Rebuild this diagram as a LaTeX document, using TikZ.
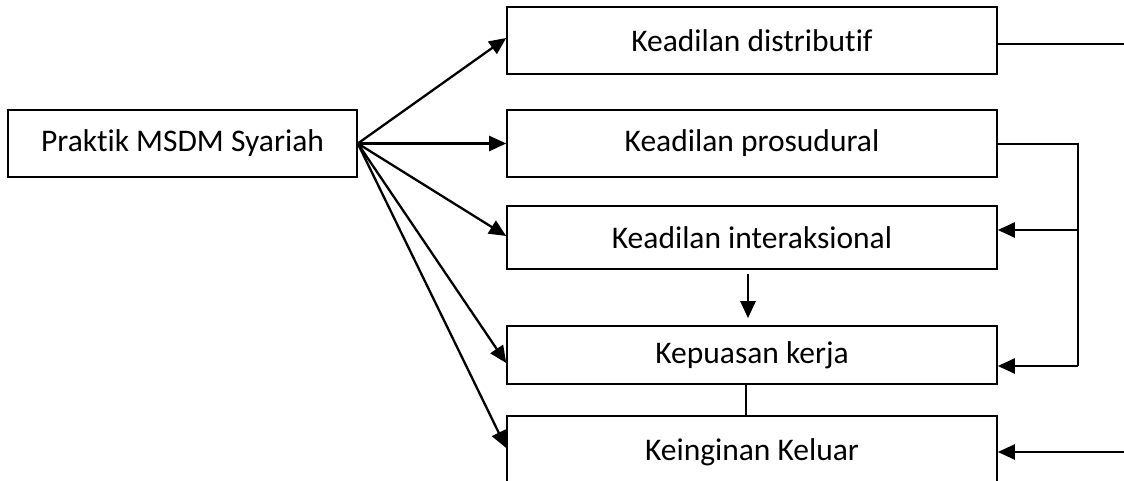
\documentclass[tikz,border=0pt]{standalone}
\usepackage{fontspec}
\setmainfont{Carlito}[Ligatures={NoCommon}]
\usetikzlibrary{arrows.meta}
\begin{document}
\begin{tikzpicture}[x=1pt,y=-1pt,
  box/.style={draw,line width=1.6pt,minimum width=490pt,inner sep=0pt,
    font=\fontsize{31.5}{36}\selectfont},
  arr/.style={line width=2.3pt,-{Triangle[length=17pt,width=15pt]}},
  ln/.style={line width=2.3pt}]
\clip (0,0) rectangle (1124,481);
\fill[white] (0,0) rectangle (1124,481);
\node[box,minimum width=349pt,minimum height=67pt] (A) at (182.5,143.5) {Praktik MSDM Syariah};
\node[box,minimum height=67pt] (B1) at (752,40.5) {Keadilan distributif};
\node[box,minimum height=67pt] (B2) at (752,143.5) {Keadilan prosudural};
\node[box,minimum height=63pt] (B3) at (752,237.5) {Keadilan interaksional};
\node[box,minimum height=58pt] (B4) at (752,355) {Kepuasan kerja};
\node[box,minimum height=72pt] (B5) at (752,452) {Keinginan Keluar};
% fan
\draw[arr] (A.east) -- ([yshift=2.5pt]B1.west);
\draw[arr] (A.east) -- (B2.west);
\draw[arr] (A.east) -- ([yshift=1.5pt]B3.west);
\draw[arr] (A.east) -- ([yshift=-8pt]B4.west);
\draw[arr] (A.east) -- ([yshift=4pt]B5.west);
% between boxes
\draw[arr] ([xshift=-4pt,yshift=-4pt]B3.south) -- ([xshift=-4pt,yshift=7pt]B4.north);
\draw[line width=1.3pt] ([xshift=-6pt]B4.south) -- ([xshift=-6pt]B5.north);
% right side
\coordinate (r1) at (1124,44);
\draw[ln] (B1.east |- r1) -- (r1);
\coordinate (j1) at (1078,144);
\coordinate (j2) at (1078,230);
\coordinate (j3) at (1078,366);
\draw[ln] (B2.east |- j1) -- (j1) -- (j3);
\draw[arr] (j2) -- (B3.east |- j2);
\draw[arr] (j3) -- (B4.east |- j3);
\coordinate (r5) at (1124,452);
\draw[arr] (r5) -- (B5.east |- r5);
\end{tikzpicture}
\end{document}
